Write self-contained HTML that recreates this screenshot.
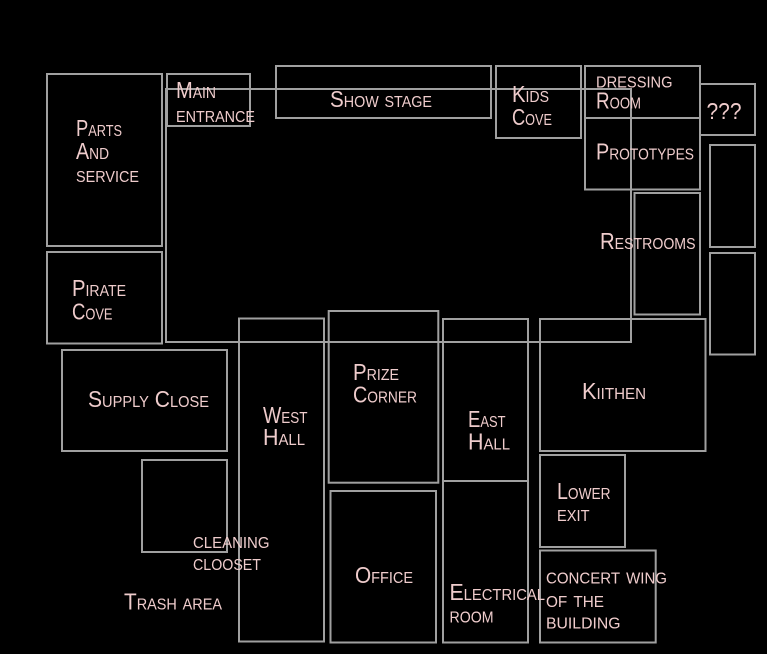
<!DOCTYPE html>
<html><head><meta charset="utf-8"><style>
html,body{margin:0;padding:0;background:#000;}
svg{display:block;}
text{font-family:"Liberation Sans",sans-serif;font-size:23px;font-variant:small-caps;fill:#efcccc;}
rect{fill:none;stroke:#a0a0a0;stroke-width:2;}
</style></head><body>
<svg width="767" height="654" viewBox="0 0 767 654" xmlns="http://www.w3.org/2000/svg">
<rect x="0" y="0" width="767" height="654" style="fill:#000;stroke:none"/>
<rect x="47" y="74" width="115" height="172"/>
<rect x="167" y="74" width="83" height="52"/>
<rect x="166" y="89" width="465" height="253"/>
<rect x="276" y="66" width="215" height="52"/>
<rect x="496" y="66" width="85" height="72"/>
<rect x="585" y="66" width="115" height="52"/>
<rect x="585" y="118" width="115" height="71.5"/>
<rect x="700" y="84" width="55" height="51"/>
<rect x="710" y="145" width="45" height="102"/>
<rect x="710" y="253" width="45" height="101.5"/>
<rect x="634.5" y="193" width="65.5" height="121.5"/>
<rect x="47" y="252" width="115" height="91.5"/>
<rect x="62" y="350" width="165" height="101"/>
<rect x="142" y="460" width="85" height="92"/>
<rect x="239" y="318.5" width="85" height="323"/>
<rect x="328.7" y="311" width="109.6" height="171.7"/>
<rect x="330.5" y="491" width="105.5" height="151.5"/>
<rect x="443" y="319" width="85" height="162"/>
<rect x="443" y="481" width="85" height="161.5"/>
<rect x="540" y="319" width="165.5" height="132"/>
<rect x="540" y="455" width="85" height="92"/>
<rect x="540" y="550.5" width="115.7" height="92"/>

<text x="76" y="136" textLength="46" lengthAdjust="spacingAndGlyphs">Parts</text>
<text x="76" y="159" textLength="33" lengthAdjust="spacingAndGlyphs">And</text>
<text x="76" y="182" textLength="63" lengthAdjust="spacingAndGlyphs">service</text>

<text x="176" y="98" textLength="40" lengthAdjust="spacingAndGlyphs">Main</text>
<text x="176" y="122" textLength="79" lengthAdjust="spacingAndGlyphs">entrance</text>

<text x="330" y="107" textLength="102" lengthAdjust="spacingAndGlyphs">Show stage</text>

<text x="512" y="102" textLength="37" lengthAdjust="spacingAndGlyphs">Kids</text>
<text x="512" y="125" textLength="40" lengthAdjust="spacingAndGlyphs">Cove</text>

<text x="596" y="87.5" textLength="76.5" lengthAdjust="spacingAndGlyphs">dressing</text>
<text x="596" y="108.5" textLength="45" lengthAdjust="spacingAndGlyphs">Room</text>

<text x="706.5" y="119" textLength="35" lengthAdjust="spacingAndGlyphs" style="font-variant:normal">???</text>

<text x="596" y="159.5" textLength="98" lengthAdjust="spacingAndGlyphs">Prototypes</text>

<text x="600" y="249" textLength="95.5" lengthAdjust="spacingAndGlyphs">Restrooms</text>

<text x="72" y="296" textLength="54" lengthAdjust="spacingAndGlyphs">Pirate</text>
<text x="72" y="319.5" textLength="40.5" lengthAdjust="spacingAndGlyphs">Cove</text>

<text x="88" y="407" textLength="121" lengthAdjust="spacingAndGlyphs">Supply Close</text>

<text x="263" y="423" textLength="44.5" lengthAdjust="spacingAndGlyphs">West</text>
<text x="263" y="445" textLength="42" lengthAdjust="spacingAndGlyphs">Hall</text>

<text x="353" y="380" textLength="46" lengthAdjust="spacingAndGlyphs">Prize</text>
<text x="353" y="402.5" textLength="64" lengthAdjust="spacingAndGlyphs">Corner</text>

<text x="468" y="427" textLength="37.5" lengthAdjust="spacingAndGlyphs">East</text>
<text x="468" y="449.5" textLength="42" lengthAdjust="spacingAndGlyphs">Hall</text>

<text x="582" y="399" textLength="64" lengthAdjust="spacingAndGlyphs">Kiithen</text>

<text x="557" y="499" textLength="53.5" lengthAdjust="spacingAndGlyphs">Lower</text>
<text x="557" y="521" textLength="32.5" lengthAdjust="spacingAndGlyphs">exit</text>

<text x="449.5" y="600" textLength="95.5" lengthAdjust="spacingAndGlyphs">Electrical</text>
<text x="449.5" y="622.5" textLength="44" lengthAdjust="spacingAndGlyphs">room</text>

<text x="546" y="583.5" textLength="121" lengthAdjust="spacingAndGlyphs">concert wing</text>
<text x="546" y="607" textLength="58" lengthAdjust="spacingAndGlyphs">of the</text>
<text x="546" y="628.5" textLength="74.5" lengthAdjust="spacingAndGlyphs">building</text>

<text x="193" y="548" textLength="76.5" lengthAdjust="spacingAndGlyphs">cleaning</text>
<text x="193" y="570" textLength="68" lengthAdjust="spacingAndGlyphs">clooset</text>

<text x="124" y="609.5" textLength="98" lengthAdjust="spacingAndGlyphs">Trash area</text>

<text x="355" y="583" textLength="58" lengthAdjust="spacingAndGlyphs">Office</text>
</svg>
</body></html>
